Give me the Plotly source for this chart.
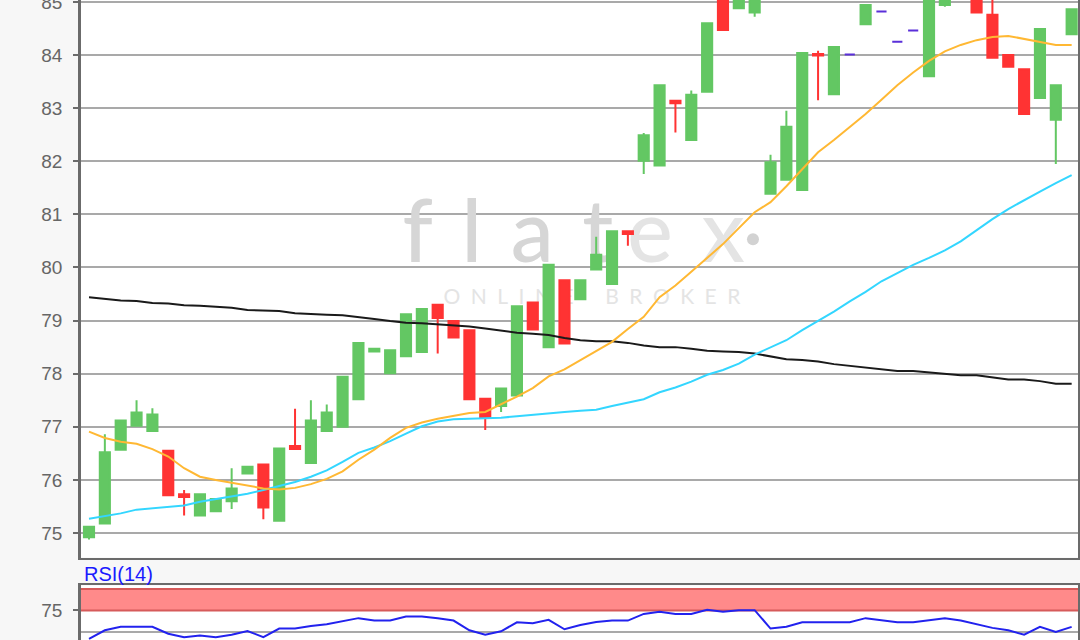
import plotly.graph_objects as go

# ---------------- data ----------------
idx = list(range(63))

open_ = [74.92, 75.18, 76.57, 77.02, 76.92, 76.55, 75.73, 75.33, 75.41, 75.60,
         76.12, 76.29, 75.23, 76.64, 76.32, 76.92, 77.00, 77.52, 78.42, 78.01,
         78.33, 78.41, 79.30, 78.99, 78.82, 77.53, 77.39, 77.59, 79.34, 78.50,
         79.76, 79.40, 79.96, 79.69, 80.68, 82.01, 81.92, 83.14, 82.40, 83.31,
         85.25, 84.88, 84.80, 81.39, 81.65, 81.46, 84.02, 83.26, 84.01, 84.58,
         84.82, 84.25, 84.46, 83.60, 84.94, 85.30, 85.20, 84.76, 84.00, 83.73,
         83.19, 82.78, 84.39]
high = [75.12, 76.86, 77.12, 77.50, 77.35, 76.55, 75.81, 75.73, 75.64, 76.22,
        76.25, 76.29, 76.59, 77.34, 77.50, 77.42, 77.94, 78.58, 78.47, 78.44,
        79.12, 79.22, 79.30, 78.99, 78.82, 77.53, 77.72, 79.27, 79.34, 80.05,
        79.76, 79.76, 80.58, 80.68, 80.68, 82.53, 83.43, 83.14, 83.33, 84.60,
        85.30, 85.20, 85.25, 82.12, 82.95, 84.04, 84.08, 84.15, 84.01, 84.94,
        84.82, 84.25, 84.46, 85.30, 85.15, 85.55, 85.25, 85.15, 84.00, 83.73,
        84.49, 83.43, 84.86]
low = [74.88, 75.18, 76.57, 77.02, 76.92, 75.71, 75.33, 75.33, 75.41, 75.45,
       76.12, 75.26, 75.23, 76.57, 76.32, 76.92, 77.00, 77.52, 78.42, 78.01,
       78.33, 78.41, 78.38, 78.68, 77.52, 76.94, 77.28, 77.59, 78.83, 78.50,
       78.57, 79.40, 79.96, 79.69, 80.41, 81.76, 81.92, 82.54, 82.40, 83.31,
       84.47, 84.88, 84.72, 81.39, 81.65, 81.46, 83.15, 83.26, 84.01, 84.58,
       84.82, 84.25, 84.46, 83.60, 84.91, 85.20, 84.80, 83.95, 83.78, 82.89,
       83.19, 81.95, 84.39]
close = [75.12, 76.52, 77.12, 77.27, 77.23, 75.71, 75.68, 75.73, 75.64, 75.84,
         76.25, 75.48, 76.59, 76.58, 77.12, 77.27, 77.94, 78.58, 78.47, 78.44,
         79.12, 79.22, 79.05, 78.68, 77.52, 77.17, 77.72, 79.27, 78.83, 80.05,
         78.57, 79.76, 80.24, 80.68, 80.63, 82.49, 83.43, 83.09, 83.25, 84.60,
         84.47, 85.15, 85.20, 81.98, 82.65, 84.04, 83.99, 84.15, 84.01, 84.94,
         84.82, 84.25, 84.46, 85.20, 85.10, 85.45, 84.80, 83.95, 83.78, 82.89,
         84.49, 83.43, 84.86]

ma_short = [76.91, 76.79, 76.72, 76.68, 76.58, 76.44, 76.22, 76.06, 76.00, 75.95,
            75.89, 75.84, 75.82, 75.85, 75.92, 76.02, 76.16, 76.38, 76.57, 76.79,
            76.98, 77.08, 77.15, 77.21, 77.26, 77.28, 77.42, 77.57, 77.73, 77.95,
            78.08, 78.25, 78.43, 78.60, 78.84, 79.07, 79.44, 79.66, 79.92, 80.18,
            80.44, 80.74, 81.04, 81.23, 81.53, 81.85, 82.17, 82.40, 82.65, 82.89,
            83.16, 83.43, 83.67, 83.89, 84.07, 84.19, 84.28, 84.34, 84.36, 84.30,
            84.24, 84.19, 84.19]
ma_mid = [75.27, 75.32, 75.37, 75.44, 75.47, 75.49, 75.52, 75.59, 75.64, 75.68,
          75.74, 75.81, 75.88, 75.96, 76.06, 76.18, 76.34, 76.51, 76.61, 76.73,
          76.87, 77.01, 77.10, 77.14, 77.15, 77.16, 77.17, 77.20, 77.23, 77.26,
          77.28, 77.30, 77.32, 77.39, 77.45, 77.52, 77.65, 77.74, 77.85, 77.98,
          78.07, 78.19, 78.36, 78.50, 78.63, 78.82, 78.99, 79.17, 79.36, 79.54,
          79.74, 79.90, 80.05, 80.18, 80.32, 80.49, 80.70, 80.91, 81.10, 81.27,
          81.43, 81.59, 81.74]
ma_long = [79.44, 79.41, 79.38, 79.37, 79.33, 79.32, 79.29, 79.28, 79.26, 79.24,
           79.20, 79.19, 79.18, 79.14, 79.12, 79.11, 79.10, 79.07, 79.03, 78.99,
           78.96, 78.95, 78.93, 78.91, 78.89, 78.85, 78.81, 78.77, 78.75, 78.73,
           78.67, 78.63, 78.61, 78.61, 78.58, 78.53, 78.50, 78.50, 78.47, 78.43,
           78.42, 78.41, 78.38, 78.32, 78.27, 78.26, 78.23, 78.18, 78.15, 78.12,
           78.08, 78.05, 78.05, 78.02, 77.99, 77.97, 77.97, 77.93, 77.89, 77.89,
           77.86, 77.81, 77.81]

rsi = [41.9, 52.0, 56.0, 56.0, 56.0, 48.0, 44.0, 46.0, 44.0, 46.8,
       51.2, 44.0, 54.0, 54.0, 56.9, 58.9, 62.1, 66.1, 63.3, 63.3,
       68.1, 68.1, 66.1, 63.3, 52.0, 46.8, 50.8, 61.3, 60.1, 64.1,
       53.2, 58.1, 61.7, 63.3, 63.3, 71.0, 73.4, 71.0, 71.0, 75.8,
       73.4, 75.4, 75.4, 54.0, 56.0, 61.3, 61.3, 61.3, 61.3, 66.1,
       63.7, 61.3, 61.3, 63.7, 66.1, 63.3, 59.3, 54.8, 52.0, 46.8,
       56.0, 50.0, 56.0]

price_ticks = [75, 76, 77, 78, 79, 80, 81, 82, 83, 84, 85]
rsi_ticks = [75]
rsi_overbought = (75, 100)
rsi_mid = 50

# ---------------- styling ----------------
GREEN = "#63c763"
RED = "#ff3333"
PURPLE = "#5a2fd9"
AXIS = "#6b6b6b"
GRID = "#a9a9a9"
LABEL = "#666666"

is_doji = [o == c for o, c in zip(open_, close)]


def pick(arr, want):
    return [v if d == want else None for v, d in zip(arr, is_doji)]


fig = go.Figure()

# watermark on a base subplot (drawn beneath the chart traces)
fig.add_trace(go.Scatter(x=[0.4283], y=[0.5685], mode="text", text=["f\u2004l\u2004a\u2004t"],
                         textfont=dict(family="Lato", size=86, color="#d6d6d6", weight=500),
                         xaxis="x3", yaxis="y3", hoverinfo="skip", showlegend=False))
fig.add_trace(go.Scatter(x=[0.6068], y=[0.5685], mode="text", text=["e\u2004x"],
                         textfont=dict(family="Lato", size=86, color="#e4e4e4", weight=500),
                         xaxis="x3", yaxis="y3", hoverinfo="skip", showlegend=False))
fig.add_trace(go.Scatter(x=[0.674], y=[0.571], mode="markers",
                         marker=dict(size=12, color="#d2d2d2"),
                         xaxis="x3", yaxis="y3", hoverinfo="skip", showlegend=False))
fig.add_trace(go.Scatter(x=[0.5125], y=[0.465], mode="text",
                         text=["O\u2002N\u2002L\u2002I\u2002N\u2002E\u2002\u2002\u2002B\u2002R\u2002O\u2002K\u2002E\u2002R"],
                         textfont=dict(family="Lato", size=21, color="#e4e4e4"),
                         xaxis="x3", yaxis="y3", hoverinfo="skip", showlegend=False))

fig.add_trace(go.Candlestick(
    x=idx, open=pick(open_, False), high=pick(high, False), low=pick(low, False), close=pick(close, False),
    increasing=dict(line=dict(color=GREEN, width=2), fillcolor=GREEN),
    decreasing=dict(line=dict(color=RED, width=2), fillcolor=RED),
    whiskerwidth=0, xaxis="x", yaxis="y", showlegend=False))
fig.add_trace(go.Candlestick(
    x=idx, open=pick(open_, True), high=pick(high, True), low=pick(low, True), close=pick(close, True),
    increasing=dict(line=dict(color=PURPLE, width=2), fillcolor=PURPLE),
    decreasing=dict(line=dict(color=PURPLE, width=2), fillcolor=PURPLE),
    whiskerwidth=0, xaxis="x", yaxis="y", showlegend=False))

fig.add_trace(go.Scatter(x=idx, y=ma_long, mode="lines", line=dict(color="#1a1a1a", width=2),
                         xaxis="x", yaxis="y", hoverinfo="skip", showlegend=False))
fig.add_trace(go.Scatter(x=idx, y=ma_mid, mode="lines", line=dict(color="#33d6ff", width=2),
                         xaxis="x", yaxis="y", hoverinfo="skip", showlegend=False))
fig.add_trace(go.Scatter(x=idx, y=ma_short, mode="lines", line=dict(color="#ffb833", width=2),
                         xaxis="x", yaxis="y", hoverinfo="skip", showlegend=False))

fig.add_trace(go.Scatter(x=idx, y=rsi, mode="lines", line=dict(color="#2222ee", width=2),
                         xaxis="x2", yaxis="y2", hoverinfo="skip", showlegend=False))

MAIN_BOTTOM = 0.1289
RSI_TOP = 0.0852
XR = [-0.505, 62.4]

fig.add_shape(type="rect", xref="x2 domain", x0=0, x1=1, yref="y2",
              y0=rsi_overbought[0], y1=rsi_overbought[1],
              fillcolor="#ff8a8a", line=dict(width=0), layer="below")
for lv in rsi_overbought:
    fig.add_shape(type="line", xref="x2 domain", x0=0, x1=1, yref="y2", y0=lv, y1=lv,
                  line=dict(color="#d65a5a", width=2), layer="below")
fig.add_shape(type="line", xref="x2 domain", x0=0, x1=1, yref="y2", y0=rsi_mid, y1=rsi_mid,
              line=dict(color=GRID, width=2), layer="below")

fig.add_annotation(text="RSI(14)", xref="paper", yref="paper", x=0, y=0.1031,
                   xanchor="left", yanchor="middle", xshift=1, showarrow=False,
                   font=dict(family="Liberation Sans, Arial, sans-serif", size=20, color="#1a1aff"))

yax_common = dict(ticks="outside", ticklen=5, tickwidth=2, tickcolor=AXIS,
                  showline=True, mirror=True, linecolor=AXIS, linewidth=2.5,
                  zeroline=False, automargin=False, ticklabelstandoff=7,
                  ticklabeloverflow="allow",
                  tickfont=dict(family="Liberation Sans, Arial, sans-serif", size=19, color=LABEL))
xax_common = dict(showticklabels=False, ticks="", showgrid=False, zeroline=False,
                  showline=True, mirror=True, linecolor=AXIS, linewidth=2, automargin=False)

fig.update_layout(
    width=1080, height=640, template="none",
    margin=dict(l=81, r=2, t=0, b=0, pad=0),
    paper_bgcolor="#f7f7f7", plot_bgcolor="#ffffff",
    showlegend=False, hovermode=False,
    boxgap=0.2, boxgroupgap=0.2,
    xaxis3=dict(domain=[0, 1], anchor="y3", range=[0, 1], visible=False, fixedrange=True),
    yaxis3=dict(domain=[MAIN_BOTTOM, 1], anchor="x3", range=[0, 1], visible=False, fixedrange=True),
    xaxis=dict(overlaying="x3", anchor="y", range=XR, rangeslider=dict(visible=False), **xax_common),
    yaxis=dict(overlaying="y3", anchor="x", range=[74.539, 85.036], tickvals=price_ticks,
               showgrid=True, gridcolor=GRID, gridwidth=2, **yax_common),
    xaxis2=dict(domain=[0, 1], anchor="y2", matches="x", range=XR, **xax_common),
    yaxis2=dict(domain=[0, RSI_TOP], anchor="x2", range=[40.7, 104.07], tickvals=rsi_ticks,
                showgrid=False, **yax_common),
)

fig.write_html("out.html", config={"displayModeBar": False},
               post_script="document.body.style.margin='0px';document.body.style.overflow='hidden';")
